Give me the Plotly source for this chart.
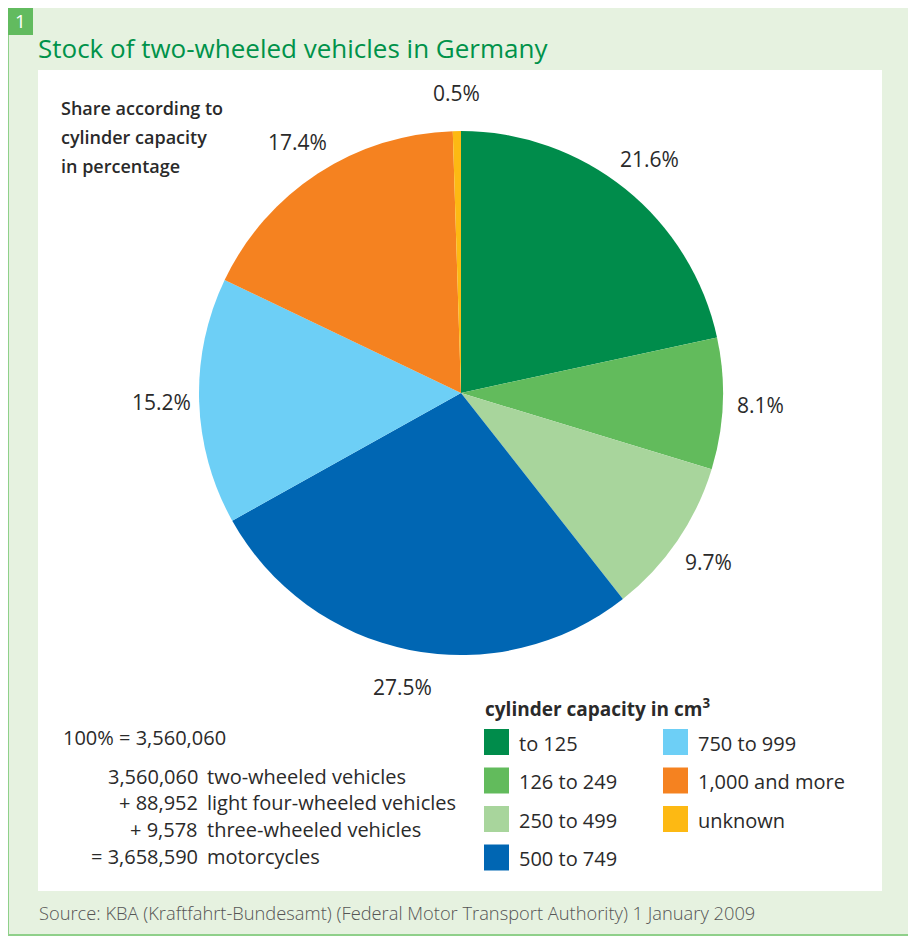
import math
import plotly.graph_objects as go

categories = ["to 125", "126 to 249", "250 to 499", "500 to 749", "750 to 999", "1,000 and more", "unknown"]
shares = [21.6, 8.1, 9.7, 27.5, 15.2, 17.4, 0.5]
label_texts = ["21.6%", "8.1%", "9.7%", "27.5%", "15.2%", "17.4%", "0.5%"]
colors = ["#008c4b", "#62bb5c", "#a8d59c", "#0066b3", "#6dcff6", "#f58220", "#fdb913"]

summary_numbers = ["3,560,060", "+ 88,952", "+ 9,578", "= 3,658,590"]
summary_texts = ["two-wheeled vehicles", "light four-wheeled vehicles", "three-wheeled vehicles", "motorcycles"]

# page body has an 8px margin; figure is sized to fit the window
OFF = 8
W, H = 916 - OFF, 937 - OFF
FONT = "Open Sans"
TXT = "#2a2a2a"

# pie geometry (window pixels)
cx, cy, R = 461, 393, 262

def px(x):
    return (x - OFF) / W

def py(y):
    return 1 - (y - OFF) / H

fig = go.Figure()
fig.add_trace(go.Pie(
    labels=categories, values=shares, sort=False, direction="clockwise",
    rotation=0, marker=dict(colors=colors, line=dict(width=0)),
    textinfo="none", hoverinfo="label+percent", showlegend=False,
    domain=dict(x=[px(cx - R), px(cx + R)], y=[py(cy + R), py(cy - R)]),
))

shapes = []
annotations = []

# frame
shapes.append(dict(type="rect", xref="paper", yref="paper", x0=px(8), x1=px(912.5), y0=py(935), y1=py(7),
                   fillcolor="#e6f2e0", line=dict(color="#8fd08a", width=2), layer="below"))
shapes.append(dict(type="rect", xref="paper", yref="paper", x0=px(38), x1=px(882), y0=py(891), y1=py(70),
                   fillcolor="white", line=dict(width=0), layer="below"))
shapes.append(dict(type="rect", xref="paper", yref="paper", x0=px(8), x1=px(33), y0=py(35), y1=py(8),
                   fillcolor="#62bb5f", line=dict(width=0), layer="below"))
annotations.append(dict(x=px(20), y=py(21), xref="paper", yref="paper", text="1", showarrow=False,
                        font=dict(family=FONT, size=19, color="white"), xanchor="center", yanchor="middle"))
annotations.append(dict(x=px(36), y=py(48), xref="paper", yref="paper",
                        text="Stock of two-wheeled vehicles in Germany", showarrow=False,
                        font=dict(family=FONT, size=26, color="#00924a", weight=500),
                        xanchor="left", yanchor="middle"))

# subtitle
for i, line in enumerate(["Share according to", "cylinder capacity", "in percentage"]):
    annotations.append(dict(x=px(59), y=py(108 + 29 * i), xref="paper", yref="paper", text=line,
                            showarrow=False, font=dict(family=FONT, size=18, color=TXT, weight=600),
                            xanchor="left", yanchor="middle"))

# slice labels
total = sum(shares)
cum = 0
for v, t in zip(shares, label_texts):
    mid = (cum + v / 2) / total * 2 * math.pi
    cum += v
    lx = cx + 300 * math.sin(mid)
    ly = cy - 300 * math.cos(mid)
    annotations.append(dict(x=px(lx), y=py(ly), xref="paper", yref="paper", text=t, showarrow=False,
                            font=dict(family=FONT, size=21, color=TXT), xanchor="center", yanchor="middle"))

# legend
annotations.append(dict(x=px(483), y=py(708), xref="paper", yref="paper",
                        text="cylinder capacity in cm<sup>3</sup>", showarrow=False,
                        font=dict(family=FONT, size=19, color=TXT, weight="bold"),
                        xanchor="left", yanchor="middle"))
for i, (c, col) in enumerate(zip(categories, colors)):
    colx = 0 if i < 4 else 1
    row = i if i < 4 else i - 4
    x0 = 484 + colx * 179
    y0 = 729 + row * 38.5
    shapes.append(dict(type="rect", xref="paper", yref="paper", x0=px(x0), x1=px(x0 + 25),
                       y0=py(y0 + 26), y1=py(y0), fillcolor=col, line=dict(width=0)))
    annotations.append(dict(x=px(x0 + 33), y=py(y0 + 14), xref="paper", yref="paper", text=c,
                            showarrow=False, font=dict(family=FONT, size=20, color=TXT),
                            xanchor="left", yanchor="middle"))

# summary block
annotations.append(dict(x=px(61), y=py(737), xref="paper", yref="paper", text="100% = 3,560,060",
                        showarrow=False, font=dict(family=FONT, size=20, color=TXT),
                        xanchor="left", yanchor="middle"))
for i, (n, t) in enumerate(zip(summary_numbers, summary_texts)):
    yy = 776 + 26.7 * i
    annotations.append(dict(x=px(200), y=py(yy), xref="paper", yref="paper", text=n, showarrow=False,
                            font=dict(family=FONT, size=20, color=TXT), xanchor="right", yanchor="middle"))
    annotations.append(dict(x=px(205), y=py(yy), xref="paper", yref="paper", text=t, showarrow=False,
                            font=dict(family=FONT, size=20, color=TXT), xanchor="left", yanchor="middle"))

# source
annotations.append(dict(x=px(37), y=py(912), xref="paper", yref="paper",
                        text="Source: KBA (Kraftfahrt-Bundesamt) (Federal Motor Transport Authority) 1 January 2009",
                        showarrow=False, font=dict(family=FONT, size=18.3, color="#555555", weight=300),
                        xanchor="left", yanchor="middle"))

fig.update_layout(width=W, height=H, margin=dict(l=0, r=0, t=0, b=0), paper_bgcolor="white",
                  plot_bgcolor="white", shapes=shapes, annotations=annotations, showlegend=False)
fig.write_html("out.html")
